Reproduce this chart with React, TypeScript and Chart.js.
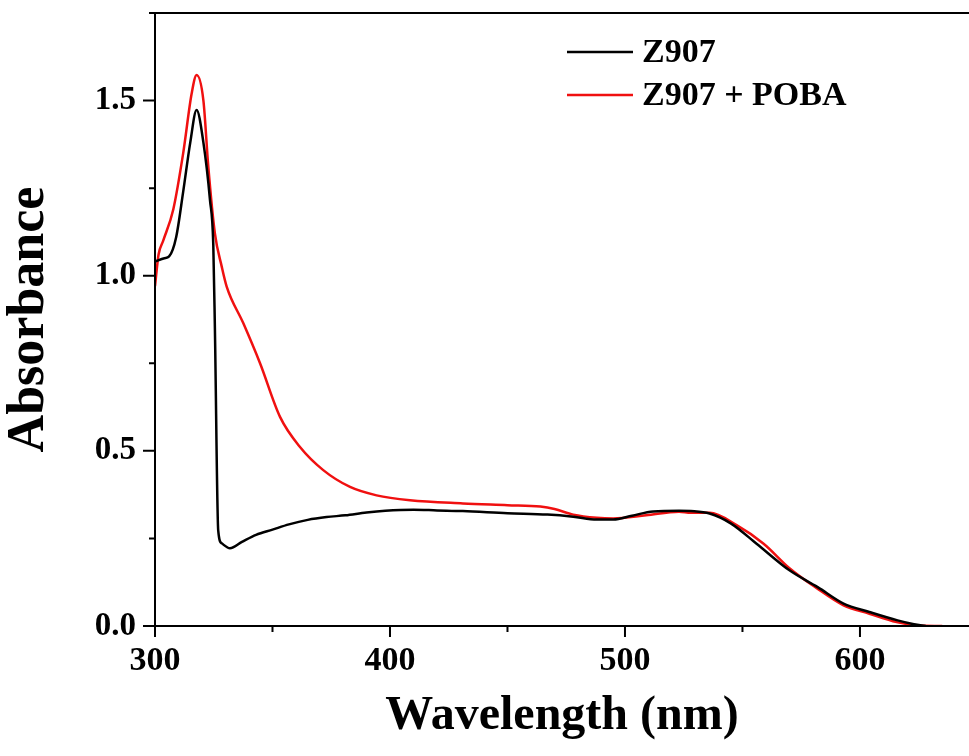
import React, { useEffect, useRef } from 'react';
import { Chart, registerables } from 'chart.js';

Chart.register(...registerables);

// ---- data ----
const z907Wavelength = [300, 304, 306, 309, 312, 315, 317.7, 320.6, 323.4, 324.8, 325.5, 326.9, 328.4, 331.9, 337, 343, 350, 357, 365, 373, 381, 390, 398, 410, 420, 431, 450, 467, 478, 488, 495, 503, 512, 523, 528, 536, 545, 556, 570, 582, 593, 604, 616, 623, 628];
const z907Absorbance = [1.04, 1.05, 1.055, 1.11, 1.24, 1.38, 1.473, 1.38, 1.216, 1.09, 0.845, 0.273, 0.236, 0.222, 0.24, 0.26, 0.275, 0.29, 0.303, 0.311, 0.316, 0.324, 0.329, 0.332, 0.33, 0.328, 0.322, 0.318, 0.312, 0.304, 0.304, 0.315, 0.327, 0.329, 0.328, 0.321, 0.293, 0.235, 0.159, 0.111, 0.064, 0.04, 0.016, 0.005, 0];

const pobaWavelength = [300, 301.5, 303.5, 307.8, 312, 315.6, 317.7, 320.6, 322.7, 325.5, 328.4, 330.5, 337.6, 344.7, 353.2, 361.7, 371.6, 383, 394.3, 408.5, 431, 450, 464, 470, 478, 488, 495, 509, 523, 528, 536, 547.5, 559, 570, 581.6, 593, 604, 615.6, 624, 635];
const pobaAbsorbance = [0.97, 1.06, 1.1, 1.19, 1.35, 1.52, 1.573, 1.5, 1.31, 1.12, 1.026, 0.969, 0.864, 0.75, 0.597, 0.511, 0.445, 0.397, 0.373, 0.359, 0.35, 0.345, 0.341, 0.334, 0.318, 0.309, 0.307, 0.316, 0.326, 0.323, 0.323, 0.288, 0.235, 0.165, 0.108, 0.059, 0.035, 0.011, 0.002, 0];

const seriesLabels = ['Z907', 'Z907 + POBA'];
const seriesColors = ['#000000', '#f01010'];

const xMajorTicks = [300, 400, 500, 600];
const xMinorTicks = [350, 450, 550];
const yMajorTicks = [0, 0.5, 1.0, 1.5];
const yMinorTicks = [0.25, 0.75, 1.25, 1.75];

const xMin = 300;
const xMax = 646.4;
const yMin = 0;
const yMax = 1.75;

const FONT = '"Liberation Serif", "Times New Roman", serif';

const toPoints = (xs: number[], ys: number[]) => xs.map((x, i) => ({ x, y: ys[i] }));

const axesPlugin = {
  id: 'customAxes',
  afterDraw(chart: any) {
    const { ctx, chartArea, scales } = chart;
    const xs = scales.x;
    const ys = scales.y;
    ctx.save();
    ctx.strokeStyle = '#000';
    ctx.lineWidth = 2;
    ctx.lineCap = 'butt';
    // axes lines
    ctx.beginPath();
    ctx.moveTo(chartArea.left, chartArea.top);
    ctx.lineTo(chartArea.left, chartArea.bottom);
    ctx.moveTo(chartArea.left - 1, chartArea.bottom);
    ctx.lineTo(chart.width, chartArea.bottom);
    ctx.moveTo(chartArea.left - 1, chartArea.top);
    ctx.lineTo(chart.width, chartArea.top);
    ctx.stroke();
    // ticks
    ctx.beginPath();
    xMajorTicks.forEach((v) => {
      const p = xs.getPixelForValue(v);
      ctx.moveTo(p, chartArea.bottom);
      ctx.lineTo(p, chartArea.bottom + 11);
    });
    xMinorTicks.forEach((v) => {
      const p = xs.getPixelForValue(v);
      ctx.moveTo(p, chartArea.bottom);
      ctx.lineTo(p, chartArea.bottom + 6);
    });
    yMajorTicks.forEach((v) => {
      const p = ys.getPixelForValue(v);
      ctx.moveTo(chartArea.left, p);
      ctx.lineTo(chartArea.left - 12, p);
    });
    yMinorTicks.forEach((v) => {
      const p = ys.getPixelForValue(v);
      ctx.moveTo(chartArea.left, p);
      ctx.lineTo(chartArea.left - 6, p);
    });
    ctx.stroke();

    // legend
    ctx.font = `bold 34px ${FONT}`;
    ctx.textBaseline = 'middle';
    ctx.textAlign = 'left';
    chart.data.datasets.forEach((ds: any, i: number) => {
      const y = 52 + i * 43;
      ctx.strokeStyle = ds.borderColor;
      ctx.lineWidth = 2.5;
      ctx.beginPath();
      ctx.moveTo(567, y);
      ctx.lineTo(633, y);
      ctx.stroke();
      ctx.fillStyle = '#000';
      ctx.fillText(ds.label, 642, y + 1);
    });
    ctx.restore();
  },
};

export default function App() {
  const canvasRef = useRef<HTMLCanvasElement | null>(null);

  useEffect(() => {
    document.body.style.margin = '0';
    const canvas = canvasRef.current;
    if (!canvas) return;
    const chart = new Chart(canvas, {
      type: 'line',
      data: {
        datasets: [
          {
            label: seriesLabels[0],
            data: toPoints(z907Wavelength, z907Absorbance),
            borderColor: seriesColors[0],
            backgroundColor: seriesColors[0],
            borderWidth: 2.5,
            pointRadius: 0,
            cubicInterpolationMode: 'monotone',
          },
          {
            label: seriesLabels[1],
            data: toPoints(pobaWavelength, pobaAbsorbance),
            borderColor: seriesColors[1],
            backgroundColor: seriesColors[1],
            borderWidth: 2.5,
            pointRadius: 0,
            cubicInterpolationMode: 'monotone',
          },
        ],
      },
      options: {
        animation: false,
        responsive: false,
        devicePixelRatio: 1,
        layout: { padding: { top: 13, right: 0, left: 0, bottom: 0 } },
        plugins: {
          legend: { display: false },
          tooltip: { enabled: false },
        },
        scales: {
          x: {
            type: 'linear',
            min: xMin,
            max: xMax,
            border: { display: false },
            grid: { display: false, drawTicks: false },
            afterBuildTicks: (scale: any) => {
              scale.ticks = xMajorTicks.map((v) => ({ value: v }));
            },
            ticks: {
              autoSkip: false,
              maxRotation: 0,
              padding: 18,
              color: '#000',
              font: { family: FONT, size: 34, weight: 'bold', lineHeight: 1 },
              callback: (v: any) => String(v),
            },
            title: {
              display: true,
              text: 'Wavelength (nm)',
              color: '#000',
              font: { family: FONT, size: 48, weight: 'bold', lineHeight: 1 },
              padding: { top: 0, bottom: 15 },
            },
            afterFit: (scale: any) => {
              scale.height = 130;
              scale.paddingLeft = 0;
              scale.paddingRight = 0;
              scale.paddingTop = 0;
              scale.paddingBottom = 0;
            },
          },
          y: {
            type: 'linear',
            min: yMin,
            max: yMax,
            border: { display: false },
            grid: { display: false, drawTicks: false },
            afterBuildTicks: (scale: any) => {
              scale.ticks = yMajorTicks.map((v) => ({ value: v }));
            },
            ticks: {
              padding: 19,
              color: '#000',
              font: { family: FONT, size: 33, weight: 'bold', lineHeight: 1 },
              callback: (v: any) => Number(v).toFixed(1),
            },
            title: {
              display: true,
              text: 'Absorbance',
              color: '#000',
              font: { family: FONT, size: 52, weight: 'bold', lineHeight: 1 },
              padding: { top: 4, bottom: 0 },
            },
            afterFit: (scale: any) => {
              scale.width = 155;
              scale.paddingTop = 0;
              scale.paddingBottom = 0;
              scale.paddingLeft = 0;
              scale.paddingRight = 0;
            },
          },
        },
      } as any,
      plugins: [axesPlugin],
    });
    return () => chart.destroy();
  }, []);

  return (
    <div style={{ width: 969, height: 756, background: '#fff' }}>
      <canvas ref={canvasRef} width={969} height={756} style={{ display: 'block' }} />
    </div>
  );
}
